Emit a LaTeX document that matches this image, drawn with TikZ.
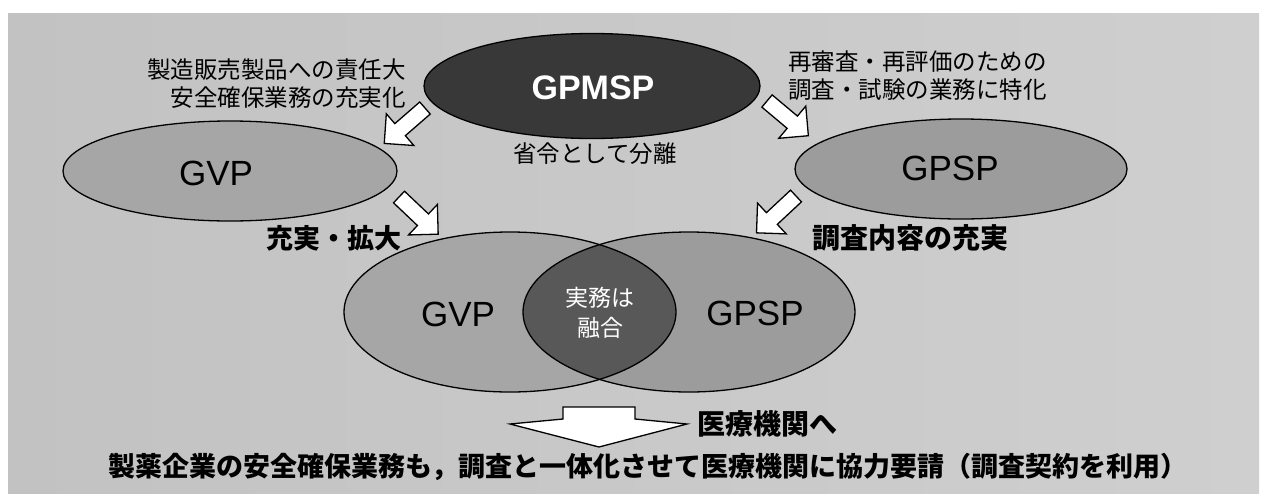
\documentclass[tikz,border=0pt]{standalone}
\usepackage{fontspec}
\setmainfont{Liberation Sans}
\newfontfamily\jp{Noto Sans CJK JP}
\usetikzlibrary{shapes.geometric}
\definecolor{panelL}{HTML}{C2C2C2}
\definecolor{panelR}{HTML}{CFCFCF}
\definecolor{darkell}{HTML}{383838}
\definecolor{gvpfill}{HTML}{A6A6A6}
\definecolor{gpspfill}{HTML}{9C9C9C}
\definecolor{lensfill}{HTML}{585858}
\begin{document}
\begin{tikzpicture}[x=1pt,y=-1pt,
  ell/.style={ellipse, draw=black, line width=1.3pt, inner sep=0pt},
  jlab/.style={font=\jp\fontsize{23.5}{28}\selectfont, inner sep=0pt, text=black},
  jbold/.style={font=\jp\bfseries\fontsize{27}{32}\selectfont, inner sep=0pt, text=black},
  gtext/.style={font=\fontsize{35}{40}\selectfont, inner sep=0pt, text=black},
  arrowbox/.style={draw=black, fill=white, line width=1.3pt, line join=miter},
  blockarr/.pic={\draw[arrowbox] (0pt,-8pt) -- (33pt,-8pt) -- (33pt,-21pt) -- (54pt,0pt) -- (33pt,21pt) -- (33pt,8pt) -- (0pt,8pt) -- cycle;}
]
\useasboundingbox (0,0) rectangle (1264,496);
% background panel
\shade[left color=panelL, right color=panelR] (8,13) rectangle (1259,493);

% top ellipses
\node[ell, fill=darkell, minimum width=336pt, minimum height=105pt] (gpmsp) at (592,86) {};
\node[font=\bfseries\fontsize{34}{40}\selectfont, text=white, inner sep=0pt] (gpmspt) at (593,88) {GPMSP};
\node[jlab] (sep) at (595,154) {省令として分離};

\node[ell, fill=gvpfill, minimum width=334pt, minimum height=100pt] (gvp1) at (230,171) {};
\node[gtext] (gvp1t) at (216,173) {GVP};

\node[ell, fill=gpspfill, minimum width=332pt, minimum height=100pt] (gpsp1) at (961,169) {};
\node[gtext] (gpsp1t) at (950,168) {GPSP};

% labels
\node[jlab, anchor=east, align=right] (llab) at (406,84) {製造販売製品への責任大\\安全確保業務の充実化};
\node[jlab, anchor=west, align=left] (rlab) at (788,76) {再審査・再評価のための\\調査・試験の業務に特化};
\node[jbold] (kakudai) at (334,238) {充実・拡大};
\node[jbold, font=\jp\bfseries\fontsize{28}{32}\selectfont] (juujitsu) at (910,238) {調査内容の充実};

% diagonal block arrows
\pic[rotate=221] at (425,108) {blockarr};
\pic[rotate=-40] at (767,101) {blockarr};
\pic[rotate=-43.5] at (399,197) {blockarr};
\pic[rotate=223] at (796,196) {blockarr};

% Venn diagram
\node[ellipse, fill=gvpfill, minimum width=332pt, minimum height=160pt, inner sep=0pt] (gvp2) at (510,312) {};
\node[ellipse, fill=gpspfill, minimum width=332pt, minimum height=160pt, inner sep=0pt] (gpsp2) at (689,312) {};
\begin{scope}
  \clip (gvp2.center) ellipse [x radius=166pt, y radius=80pt];
  \fill[lensfill] (gpsp2.center) ellipse [x radius=166pt, y radius=80pt];
\end{scope}
\draw[line width=1.3pt] (gvp2.center) ellipse [x radius=166pt, y radius=80pt];
\draw[line width=1.3pt] (gpsp2.center) ellipse [x radius=166pt, y radius=80pt];
\node[gtext] (gvp2t) at (458,314) {GVP};
\node[gtext] (gpsp2t) at (755,313) {GPSP};
\node[jlab, text=white, align=center, font=\jp\fontsize{23}{30}\selectfont] (merge) at (600,313) {実務は\\融合};

% down arrow
\coordinate (dtop) at (599,407);
\draw[arrowbox] (563,407) -- (635,407) -- (635,419) -- (687,424) -- (599,447) -- (510,424) -- (563,419) -- cycle;
\node[jbold, font=\jp\bfseries\fontsize{28}{32}\selectfont, anchor=west] (iryo) at (697,424) {医療機関へ};
\node[jbold] (bottom) at (648,467) {製薬企業の安全確保業務も，調査と一体化させて医療機関に協力要請（調査契約を利用）};
\end{tikzpicture}
\end{document}
